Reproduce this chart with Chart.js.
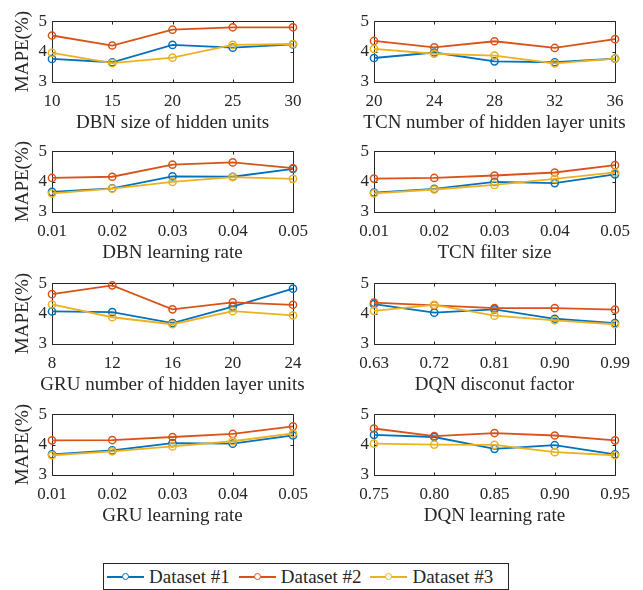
<!DOCTYPE html>
<html>
<head>
<meta charset="utf-8">
<script src="https://cdn.jsdelivr.net/npm/chart.js@4/dist/chart.umd.min.js"></script>
<style>
  html, body { margin: 0; padding: 0; background: #fff; }
  #fig { position: relative; width: 643px; height: 590px; overflow: hidden; background: #fff; }
  .panel { position: absolute; width: 321px; height: 128px; }
  #legend {
    position: absolute; left: 103px; top: 563px; width: 406px; height: 27px;
    box-sizing: border-box; border: 1px solid #262626; background: #fff;
    display: flex; align-items: center; padding-left: 3px;
    font-family: "Liberation Serif", "Times New Roman", serif; font-size: 19px; color: #262626;
  }
  .item { display: flex; align-items: center; margin-right: 9px; }
  .swatch { position: relative; width: 37px; height: 10px; margin-right: 5px; }
  .swatch .ln { position: absolute; left: 0; right: 0; top: 4px; height: 2px; }
  .swatch .mk { position: absolute; left: 15px; top: 1px; width: 5px; height: 5px; border: 1.5px solid; border-radius: 50%; background: #fff; }
</style>
</head>
<body>
<div id="fig"></div>
<script>
// Series names and colours
const seriesNames = ['Dataset #1', 'Dataset #2', 'Dataset #3'];
const seriesColors = ['#0072BD', '#D95319', '#EDB120'];

// DBN size of hidden units
const dbnUnitsTicks = ['10', '15', '20', '25', '30'];
const dbnUnitsD1 = [3.76, 3.65, 4.22, 4.13, 4.24];
const dbnUnitsD2 = [4.53, 4.20, 4.72, 4.80, 4.80];
const dbnUnitsD3 = [3.96, 3.62, 3.80, 4.22, 4.25];

// TCN number of hidden layer units
const tcnUnitsTicks = ['20', '24', '28', '32', '36'];
const tcnUnitsD1 = [3.79, 3.97, 3.68, 3.65, 3.77];
const tcnUnitsD2 = [4.35, 4.14, 4.34, 4.12, 4.41];
const tcnUnitsD3 = [4.09, 3.93, 3.87, 3.61, 3.77];

// DBN learning rate
const dbnLrTicks = ['0.01', '0.02', '0.03', '0.04', '0.05'];
const dbnLrD1 = [3.66, 3.78, 4.17, 4.16, 4.42];
const dbnLrD2 = [4.12, 4.16, 4.56, 4.63, 4.44];
const dbnLrD3 = [3.61, 3.77, 3.99, 4.15, 4.09];

// TCN filter size
const tcnFilterTicks = ['0.01', '0.02', '0.03', '0.04', '0.05'];
const tcnFilterD1 = [3.64, 3.76, 3.99, 3.95, 4.24];
const tcnFilterD2 = [4.10, 4.12, 4.20, 4.30, 4.54];
const tcnFilterD3 = [3.61, 3.74, 3.89, 4.09, 4.30];

// GRU number of hidden layer units
const gruUnitsTicks = ['8', '12', '16', '20', '24'];
const gruUnitsD1 = [4.07, 4.05, 3.69, 4.23, 4.82];
const gruUnitsD2 = [4.64, 4.93, 4.14, 4.37, 4.29];
const gruUnitsD3 = [4.30, 3.88, 3.65, 4.08, 3.94];

// DQN discount factor
const dqnGammaTicks = ['0.63', '0.72', '0.81', '0.90', '0.99'];
const dqnGammaD1 = [4.31, 4.03, 4.14, 3.83, 3.69];
const dqnGammaD2 = [4.36, 4.27, 4.18, 4.18, 4.13];
const dqnGammaD3 = [4.09, 4.29, 3.93, 3.78, 3.65];

// GRU learning rate
const gruLrTicks = ['0.01', '0.02', '0.03', '0.04', '0.05'];
const gruLrD1 = [3.68, 3.81, 4.05, 4.03, 4.30];
const gruLrD2 = [4.14, 4.15, 4.25, 4.35, 4.60];
const gruLrD3 = [3.65, 3.78, 3.94, 4.11, 4.37];

// DQN learning rate
const dqnLrTicks = ['0.75', '0.80', '0.85', '0.90', '0.95'];
const dqnLrD1 = [4.32, 4.25, 3.86, 3.98, 3.68];
const dqnLrD2 = [4.53, 4.28, 4.38, 4.30, 4.14];
const dqnLrD3 = [4.03, 4.00, 3.99, 3.75, 3.65];

const panels = [
  { title: 'DBN size of hidden units',          ticks: dbnUnitsTicks,  series: [dbnUnitsD1, dbnUnitsD2, dbnUnitsD3] },
  { title: 'TCN number of hidden layer units',  ticks: tcnUnitsTicks,  series: [tcnUnitsD1, tcnUnitsD2, tcnUnitsD3] },
  { title: 'DBN learning rate',                 ticks: dbnLrTicks,     series: [dbnLrD1, dbnLrD2, dbnLrD3] },
  { title: 'TCN filter size',                   ticks: tcnFilterTicks, series: [tcnFilterD1, tcnFilterD2, tcnFilterD3] },
  { title: 'GRU number of hidden layer units',  ticks: gruUnitsTicks,  series: [gruUnitsD1, gruUnitsD2, gruUnitsD3] },
  { title: 'DQN disconut factor',               ticks: dqnGammaTicks,  series: [dqnGammaD1, dqnGammaD2, dqnGammaD3] },
  { title: 'GRU learning rate',                 ticks: gruLrTicks,     series: [gruLrD1, gruLrD2, gruLrD3] },
  { title: 'DQN learning rate',                 ticks: dqnLrTicks,     series: [dqnLrD1, dqnLrD2, dqnLrD3] }
];

const yLabel = 'MAPE(%)';
const AXIS_COLOR = '#262626';
const FONT = '"Liberation Serif", "Times New Roman", serif';
const colLeft = [0, 322];
const rowTop = [6, 136, 268, 399];

// Box around the plot area with inward ticks on all four sides
const frameTicks = {
  id: 'frameTicks',
  beforeDatasetsDraw(chart) {
    const { ctx, chartArea: a, scales: { x, y } } = chart;
    const L = Math.round(a.left) + 0.5, R = Math.round(a.right) + 0.5;
    const T = Math.round(a.top) + 0.5, B = Math.round(a.bottom) + 0.5;
    const len = 3;
    ctx.save();
    ctx.strokeStyle = AXIS_COLOR;
    ctx.lineWidth = 1;
    ctx.beginPath();
    ctx.rect(L, T, R - L, B - T);
    x.ticks.forEach((t, i) => {
      const px = Math.round(x.getPixelForTick(i)) + 0.5;
      ctx.moveTo(px, B); ctx.lineTo(px, B - len);
      ctx.moveTo(px, T); ctx.lineTo(px, T + len);
    });
    y.ticks.forEach((t, i) => {
      const py = Math.round(y.getPixelForTick(i)) + 0.5;
      ctx.moveTo(L, py); ctx.lineTo(L + len, py);
      ctx.moveTo(R, py); ctx.lineTo(R - len, py);
    });
    ctx.stroke();
    ctx.restore();
  }
};

// X-axis caption centred under the plot area, allowed to run wider than the axis
const xCaption = {
  id: 'xCaption',
  afterDraw(chart, args, opts) {
    const { ctx, chartArea: a } = chart;
    ctx.save();
    ctx.font = '19px ' + FONT;
    ctx.fillStyle = AXIS_COLOR;
    ctx.textAlign = 'center';
    ctx.textBaseline = 'middle';
    ctx.fillText(opts.text, (a.left + a.right) / 2, chart.height - 11);
    ctx.restore();
  }
};

const fig = document.getElementById('fig');

panels.forEach((p, idx) => {
  const col = idx % 2, row = Math.floor(idx / 2);
  const canvas = document.createElement('canvas');
  canvas.className = 'panel';
  canvas.width = 321; canvas.height = 128;
  canvas.style.left = colLeft[col] + 'px';
  canvas.style.top = rowTop[row] + 'px';
  fig.appendChild(canvas);

  new Chart(canvas, {
    type: 'line',
    data: {
      labels: p.ticks,
      datasets: p.series.map((vals, k) => ({
        label: seriesNames[k],
        data: vals,
        borderColor: seriesColors[k],
        backgroundColor: seriesColors[k],
        borderWidth: 1.8,
        pointRadius: 3.6,
        pointBorderWidth: 1.5,
        pointBorderColor: seriesColors[k],
        pointBackgroundColor: 'rgba(0,0,0,0)',
        tension: 0,
        fill: false,
        clip: false,
        order: 2 - k
      }))
    },
    options: {
      responsive: false,
      animation: false,
      devicePixelRatio: 1,
      events: [],
      layout: { padding: { top: 10, right: 28, left: 0, bottom: 0 } },
      plugins: {
        legend: { display: false },
        tooltip: { enabled: false },
        xCaption: { text: p.title }
      },
      scales: {
        x: {
          type: 'category',
          offset: false,
          grid: { display: false, drawTicks: false },
          border: { display: false },
          ticks: { color: AXIS_COLOR, font: { family: FONT, size: 17 }, padding: 9, maxRotation: 0, autoSkip: false },
          title: { display: false },
          afterFit(s) { s.height = 52; }
        },
        y: {
          min: 3, max: 5,
          grid: { display: false, drawTicks: false },
          border: { display: false },
          ticks: { stepSize: 1, color: AXIS_COLOR, font: { family: FONT, size: 17 }, padding: 5 },
          title: { display: col === 0, text: yLabel, color: AXIS_COLOR, font: { family: FONT, size: 19 }, padding: { top: 12, bottom: 0 } },
          afterFit(s) { s.width = 52; }
        }
      }
    },
    plugins: [frameTicks, xCaption]
  });
});

// Shared legend along the bottom
const legend = document.createElement('div');
legend.id = 'legend';
seriesNames.forEach((name, k) => {
  const item = document.createElement('div');
  item.className = 'item';
  const sw = document.createElement('div');
  sw.className = 'swatch';
  const ln = document.createElement('div');
  ln.className = 'ln'; ln.style.background = seriesColors[k];
  const mk = document.createElement('div');
  mk.className = 'mk'; mk.style.borderColor = seriesColors[k];
  sw.appendChild(ln); sw.appendChild(mk);
  const txt = document.createElement('span');
  txt.textContent = name;
  item.appendChild(sw); item.appendChild(txt);
  legend.appendChild(item);
});
fig.appendChild(legend);
</script>
</body>
</html>
